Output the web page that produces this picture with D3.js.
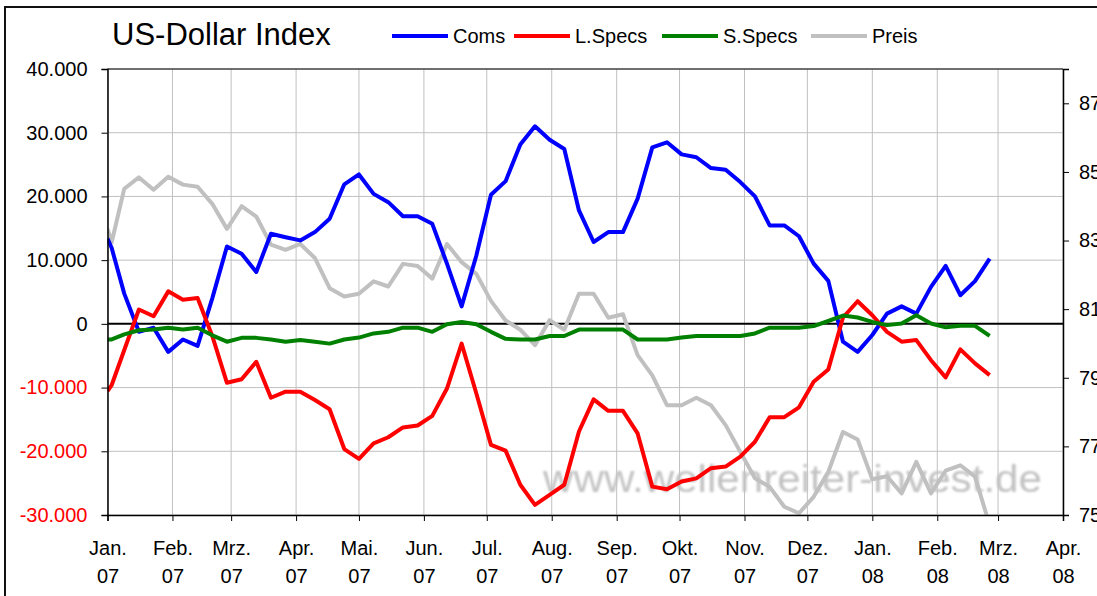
<!DOCTYPE html>
<html>
<head>
<meta charset="UTF-8">
<script src="https://d3js.org/d3.v7.min.js"></script>
<style>
  body { margin: 0; background: #fff; }
  svg { display: block; font-family: "Liberation Sans", Arial, sans-serif; }
</style>
</head>
<body>
<script>
// COT report dates (weekly)
const dates = ["2007-01-01","2007-01-03","2007-01-09","2007-01-16","2007-01-23","2007-01-30",
  "2007-02-06","2007-02-13","2007-02-20","2007-02-27","2007-03-06","2007-03-13","2007-03-20","2007-03-27",
  "2007-04-03","2007-04-10","2007-04-17","2007-04-24","2007-05-01","2007-05-08","2007-05-15","2007-05-22","2007-05-29",
  "2007-06-05","2007-06-12","2007-06-19","2007-06-26","2007-07-03","2007-07-10","2007-07-17","2007-07-24","2007-07-31",
  "2007-08-07","2007-08-14","2007-08-21","2007-08-28","2007-09-04","2007-09-11","2007-09-18","2007-09-25",
  "2007-10-02","2007-10-09","2007-10-16","2007-10-23","2007-10-30","2007-11-06","2007-11-13","2007-11-20","2007-11-27",
  "2007-12-04","2007-12-11","2007-12-18","2007-12-25","2008-01-01","2008-01-08","2008-01-15","2008-01-22","2008-01-29",
  "2008-02-05","2008-02-12","2008-02-19","2008-02-26"];

const coms = [13400,11900,4750,-1250,-600,-4400,-2450,-3450,4000,12150,11000,8150,14150,13600,
  13100,14400,16500,21900,23450,20400,19100,16900,16900,15700,9450,2750,10700,20250,22400,28150,31000,28900,
  27450,17800,12850,14400,14400,19650,27700,28500,26600,26150,24450,24200,22250,20000,15450,15450,13750,
  9450,6750,-2800,-4400,-1750,1600,2750,1600,5800,9100,4500,6700,10250];

const lSpecs = [-10550,-9600,-4100,2250,1200,5100,3800,4050,-1900,-9250,-8700,-5950,-11600,-10650,
  -10650,-11950,-13400,-19650,-21200,-18750,-17800,-16250,-15950,-14450,-10150,-3100,-10900,-19000,-19900,-25250,-28400,-26850,
  -25250,-16900,-11850,-13650,-13650,-17200,-25550,-25950,-24750,-24250,-22650,-22400,-20850,-18500,-14650,-14650,-13100,
  -9100,-7150,1000,3550,1350,-1250,-2800,-2550,-5700,-8400,-4000,-6200,-8050];

const sSpecs = [-2450,-2450,-1650,-1000,-900,-600,-900,-600,-1800,-2800,-2200,-2200,-2450,-2800,
  -2550,-2800,-3100,-2450,-2150,-1500,-1250,-600,-600,-1250,-50,300,-50,-1250,-2350,-2450,-2450,-1900,
  -1900,-900,-900,-900,-900,-2450,-2450,-2450,-2150,-1900,-1900,-1900,-1900,-1500,-600,-600,-600,
  -350,450,1300,1000,300,-200,50,1350,50,-550,-300,-300,-1900];

const preis = [83.34,82.95,84.51,84.84,84.48,84.86,84.63,84.57,84.07,83.34,84.0,83.70,82.88,82.73,
  82.90,82.49,81.61,81.37,81.45,81.81,81.66,82.32,82.26,81.89,82.90,82.37,82.03,81.24,80.67,80.40,79.95,80.68,
  80.40,81.45,81.45,80.75,80.85,79.66,79.07,78.20,78.20,78.42,78.20,77.62,76.84,76.07,75.82,75.24,75.05,
  75.53,76.26,77.42,77.20,76.04,76.13,75.63,76.55,75.63,76.29,76.45,76.12,74.70];

const monthNames = ["Jan.","Feb.","Mrz.","Apr.","Mai.","Jun.","Jul.","Aug.","Sep.","Okt.","Nov.","Dez."];
const leftTicks = [-30000,-20000,-10000,0,10000,20000,30000,40000];
const rightTicks = [75,77,79,81,83,85,87];

const width = 1097, height = 596;
const plot = {left: 107.5, right: 1063, top: 69, bottom: 515};

const parse = d3.timeParse("%Y-%m-%d");
const days = dates.map(parse);

const x = d3.scaleTime()
  .domain([new Date(2007,0,1), new Date(2008,3,1)])
  .range([plot.left, plot.right]);
const y = d3.scaleLinear().domain([-30000, 40000]).range([plot.bottom, plot.top]);
const y2 = d3.scaleLinear().domain([75, 88]).range([plot.bottom, plot.top]);

const de = d3.formatLocale({decimal: ",", thousands: ".", grouping: [3], currency: ["", "€"], minus: "-"});
const fmt = de.format(",.0f");

const svg = d3.select("body").append("svg")
  .attr("width", width)
  .attr("height", height);

// outer frame
svg.append("rect")
  .attr("x", 5).attr("y", 7)
  .attr("width", 1100).attr("height", 600)
  .attr("fill", "none").attr("stroke", "#111").attr("stroke-width", 2);

svg.append("defs").append("clipPath").attr("id", "plotclip")
  .append("rect")
  .attr("x", plot.left).attr("y", plot.top)
  .attr("width", plot.right - plot.left).attr("height", plot.bottom - plot.top);

svg.select("defs").append("filter").attr("id", "soft")
  .append("feGaussianBlur").attr("stdDeviation", 1.1);

const months = x.ticks(d3.timeMonth.every(1));

// grid
svg.append("g").selectAll("line").data(leftTicks.filter(d => d !== 0))
  .join("line")
  .attr("x1", plot.left).attr("x2", plot.right)
  .attr("y1", d => y(d)).attr("y2", d => y(d))
  .attr("stroke", "#c0c0c0").attr("stroke-width", 1);

svg.append("g").selectAll("line").data(months)
  .join("line")
  .attr("x1", d => x(d)).attr("x2", d => x(d))
  .attr("y1", plot.top).attr("y2", plot.bottom)
  .attr("stroke", "#c0c0c0").attr("stroke-width", 1);

// watermark
svg.append("text")
  .attr("x", 543).attr("y", 492)
  .attr("font-size", 38)
  .attr("textLength", 499)
  .attr("lengthAdjust", "spacingAndGlyphs")
  .attr("fill", "#c2c2c2")
  .attr("filter", "url(#soft)")
  .text("www.wellenreiter-invest.de");

// top border
svg.append("line")
  .attr("x1", plot.left).attr("x2", plot.right)
  .attr("y1", plot.top).attr("y2", plot.top)
  .attr("stroke", "#000").attr("stroke-width", 1.2);

// zero line
svg.append("line")
  .attr("x1", plot.left).attr("x2", plot.right)
  .attr("y1", y(0)).attr("y2", y(0))
  .attr("stroke", "#000").attr("stroke-width", 2);

// series
const series = [
  {name: "Preis", values: preis, color: "#c0c0c0", scale: y2},
  {name: "Coms", values: coms, color: "#0000ff", scale: y},
  {name: "L.Specs", values: lSpecs, color: "#ff0000", scale: y},
  {name: "S.Specs", values: sSpecs, color: "#008000", scale: y}
];

const lines = svg.append("g").attr("clip-path", "url(#plotclip)");
series.forEach(s => {
  lines.append("path")
    .datum(s.values)
    .attr("fill", "none")
    .attr("stroke", s.color)
    .attr("stroke-width", 4)
    .attr("stroke-linejoin", "round")
    .attr("d", d3.line()
      .x((d, i) => x(days[i]))
      .y(d => s.scale(d)));
});

// left axis
const yAxis = svg.append("g")
  .attr("transform", "translate(" + plot.left + ",0)")
  .call(d3.axisLeft(y).tickValues(leftTicks).tickSize(6).tickPadding(14).tickFormat(fmt));
yAxis.select(".domain").attr("stroke", "#000").attr("stroke-width", 1.5);
yAxis.selectAll(".tick line").attr("stroke", "#000");
yAxis.selectAll(".tick text")
  .attr("font-size", 20)
  .attr("font-family", "Liberation Sans, Arial, sans-serif")
  .attr("fill", d => d < 0 ? "#ff0000" : "#000");

// right axis (labels run off the right edge, as in the original)
const y2Axis = svg.append("g")
  .attr("transform", "translate(" + plot.right + ",0)")
  .call(d3.axisRight(y2).tickValues(rightTicks).tickSize(6).tickPadding(10));
y2Axis.select(".domain").attr("stroke", "#000").attr("stroke-width", 1.5);
y2Axis.selectAll(".tick line").attr("stroke", "#000");
y2Axis.selectAll(".tick text")
  .attr("font-size", 20)
  .attr("font-family", "Liberation Sans, Arial, sans-serif")
  .attr("fill", "#000");

// bottom axis
const xAxis = svg.append("g")
  .attr("transform", "translate(0," + plot.bottom + ")")
  .call(d3.axisBottom(x).tickValues(months).tickSize(6).tickFormat(""));
xAxis.select(".domain").attr("stroke", "#000").attr("stroke-width", 1.5);
xAxis.selectAll(".tick line").attr("stroke", "#000");
xAxis.selectAll(".tick").each(function(d) {
  const t = d3.select(this);
  t.append("text").attr("y", 40).attr("fill", "#000").attr("font-size", 20)
    .attr("font-family", "Liberation Sans, Arial, sans-serif")
    .attr("text-anchor", "middle").text(monthNames[d.getMonth()]);
  t.append("text").attr("y", 68).attr("fill", "#000").attr("font-size", 20)
    .attr("font-family", "Liberation Sans, Arial, sans-serif")
    .attr("text-anchor", "middle").text(d3.timeFormat("%y")(d));
});

// title
svg.append("text")
  .attr("x", 112).attr("y", 45)
  .attr("font-size", 31)
  .attr("fill", "#000")
  .text("US-Dollar Index");

// legend
const legendOrder = ["Coms", "L.Specs", "S.Specs", "Preis"];
const legendX = [392, 514, 662, 811];
legendOrder.forEach((name, i) => {
  const s = series.find(d => d.name === name);
  const lx = legendX[i];
  const g = svg.append("g");
  g.append("line")
    .attr("x1", lx).attr("x2", lx + 56)
    .attr("y1", 36).attr("y2", 36)
    .attr("stroke", s.color).attr("stroke-width", 4);
  g.append("text")
    .attr("x", lx + 61).attr("y", 43)
    .attr("font-size", 20)
    .attr("fill", "#000")
    .text(name);
});
</script>
</body>
</html>
